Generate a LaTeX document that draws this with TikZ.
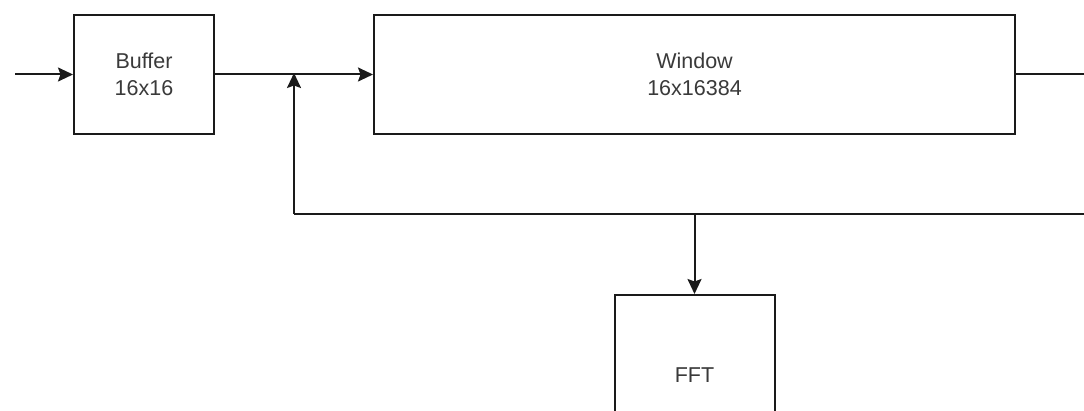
\documentclass[tikz,border=0pt]{standalone}
\usepackage{fontspec}
\setmainfont{Liberation Sans}
\usetikzlibrary{arrows.meta}
\definecolor{txt}{HTML}{3A3A3A}
\definecolor{ln}{HTML}{1A1A1A}
\begin{document}
\begin{tikzpicture}[x=1pt,y=-1pt,
  blk/.style={draw=ln,line width=2pt,fill=white,inner sep=0pt,
    font=\fontsize{21.5}{27}\selectfont,text=txt,align=center},
  wire/.style={draw=ln,line width=2pt},
  arr/.style={wire,-{Stealth[length=15pt,width=14pt,inset=2.5pt]}}]
\useasboundingbox (0,0) rectangle (1084,411);
\clip (0,0) rectangle (1084,411);
\node[blk,minimum width=140pt,minimum height=119pt] (buf) at (144,74.5) {Buffer\\16x16};
\node[blk,minimum width=641pt,minimum height=119pt] (win) at (694.5,74.5) {Window\\16x16384};
\node[blk,minimum width=160pt,minimum height=160pt] (fft) at (694.5,375) {FFT};
\coordinate (in) at (15,74.5);
\coordinate (j) at (294,74.5);
\coordinate (jb) at (294,214);
\coordinate (rt) at (1120,74.5);
\coordinate (rb) at (1120,214);
\coordinate (tap) at (694.5,214);
\draw[arr] (in) -- (buf.west);
\draw[arr] (buf.east) -- (win.west);
\draw[wire] (win.east) -- (rt) -- (rb) -- (jb);
\draw[arr] (jb) -- ([yshift=1.5pt]j);
\draw[arr] (tap) -- (fft.north);
\end{tikzpicture}
\end{document}
